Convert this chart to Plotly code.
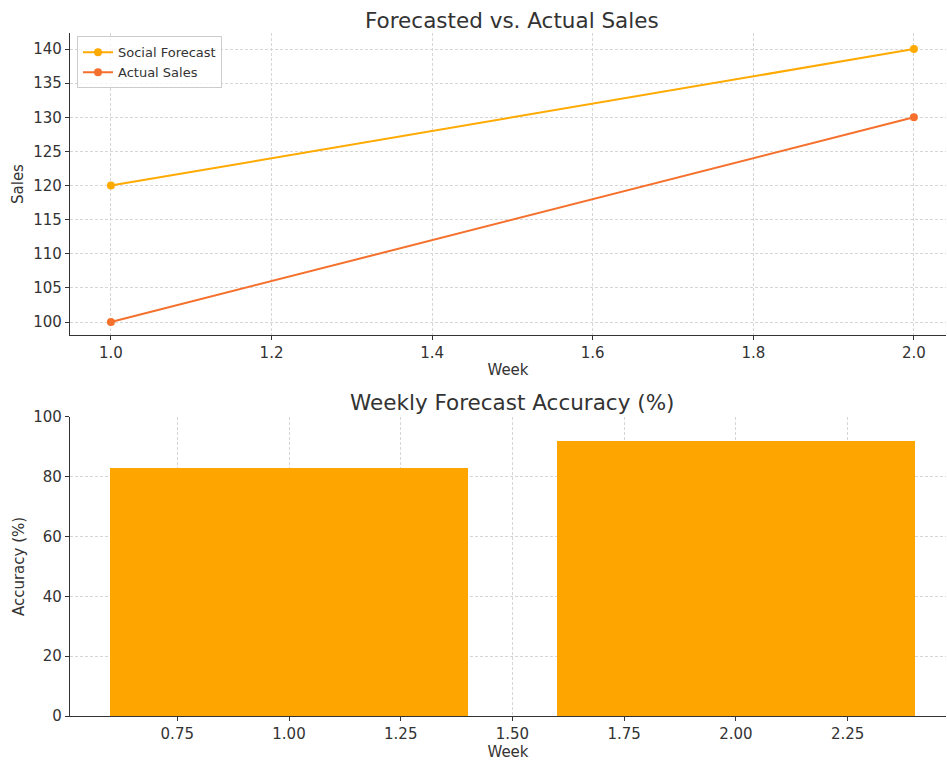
import plotly.graph_objects as go
from plotly.subplots import make_subplots

weeks = [1, 2]
social_forecast = [120, 140]
actual_sales = [100, 130]
accuracy = [83, 92]

FONT = "DejaVu Sans"
fig = make_subplots(rows=2, cols=1, vertical_spacing=0.12)

fig.add_trace(go.Scatter(x=weeks, y=social_forecast, mode="lines+markers", name="Social Forecast",
                         line=dict(color="#FFAA00", width=2), marker=dict(size=8)), row=1, col=1)
fig.add_trace(go.Scatter(x=weeks, y=actual_sales, mode="lines+markers", name="Actual Sales",
                         line=dict(color="#F4702C", width=2), marker=dict(size=8)), row=1, col=1)
fig.add_trace(go.Bar(x=weeks, y=accuracy, width=0.8, marker=dict(color="#FFA500", line=dict(width=0)),
                     showlegend=False), row=2, col=1)

axis_common = dict(showline=True, linecolor="#333333", linewidth=1.2, ticks="outside", ticklen=4,
                   tickcolor="#333333", showgrid=True, gridcolor="#d6d6d6", griddash="3px,2px",
                   gridwidth=1, zeroline=False, tickfont=dict(family=FONT, size=15, color="#333333"),
                   mirror=False, automargin=False)

fig.update_layout(
    width=947, height=761,
    margin=dict(l=70, r=1, t=33, b=45),
    plot_bgcolor="white", paper_bgcolor="white",
    font=dict(family=FONT, color="#333333"),
    legend=dict(x=0.008, y=0.995, xanchor="left", yanchor="top", bordercolor="#cccccc", borderwidth=1,
                bgcolor="rgba(255,255,255,0.8)", font=dict(family=FONT, size=13, color="#333333"),
                tracegroupgap=0),
    bargap=0,
)

fig.update_xaxes(**axis_common)
fig.update_yaxes(**axis_common)

fig.update_xaxes(range=[0.949, 2.04], tickvals=[1.0, 1.2, 1.4, 1.6, 1.8, 2.0],
                 ticktext=["1.0", "1.2", "1.4", "1.6", "1.8", "2.0"],
                 title=dict(text="Week", font=dict(family=FONT, size=15, color="#333333"), standoff=3),
                 domain=[0, 1], row=1, col=1)
fig.update_yaxes(range=[98.1, 142.35], tickvals=[100, 105, 110, 115, 120, 125, 130, 135, 140],
                 title=dict(text="Sales", font=dict(family=FONT, size=15, color="#333333"), standoff=5),
                 domain=[0.5578, 1.0], row=1, col=1)
fig.update_xaxes(range=[0.51, 2.47], tickvals=[0.75, 1.0, 1.25, 1.5, 1.75, 2.0, 2.25],
                 ticktext=["0.75", "1.00", "1.25", "1.50", "1.75", "2.00", "2.25"],
                 title=dict(text="Week", font=dict(family=FONT, size=15, color="#333333"), standoff=4),
                 domain=[0, 1], row=2, col=1)
fig.update_yaxes(range=[0, 100], tickvals=[0, 20, 40, 60, 80, 100],
                 title=dict(text="Accuracy (%)", font=dict(family=FONT, size=15, color="#333333"), standoff=5),
                 domain=[0, 0.4378], row=2, col=1)

fig.add_annotation(text="Forecasted vs. Actual Sales", x=0.5, xref="paper", xshift=4, y=1.0, yref="paper",
                   yanchor="bottom", yshift=-2, showarrow=False,
                   font=dict(family=FONT, size=21.5, color="#333333"))
fig.add_annotation(text="Weekly Forecast Accuracy (%)", x=0.5, xref="paper", xshift=4, y=0.4378, yref="paper",
                   yanchor="bottom", yshift=0, showarrow=False,
                   font=dict(family=FONT, size=21.5, color="#333333"))

fig.write_html("out.html", config={"displayModeBar": False},
               post_script="document.body.style.margin='0';document.body.style.overflow='hidden';")
